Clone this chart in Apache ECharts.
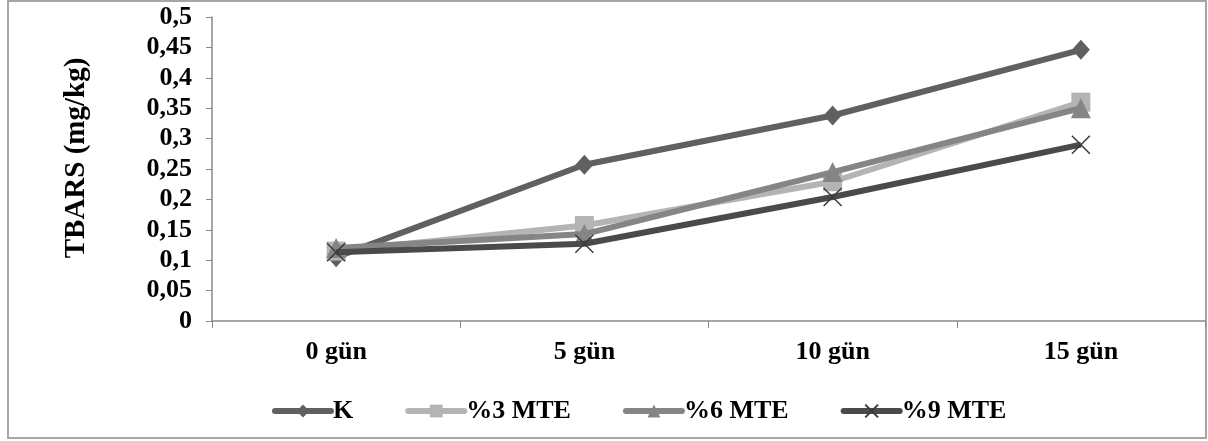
<!DOCTYPE html>
<html>
<head>
<meta charset="utf-8">
<script src="https://cdn.jsdelivr.net/npm/echarts@6/dist/echarts.min.js"></script>
<style>html,body{margin:0;padding:0;background:#fff}#c{width:1208px;height:441px}</style>
</head>
<body>
<div id="c"></div>
<script>
const categories = ['0 gün', '5 gün', '10 gün', '15 gün'];
const seriesNames = ['K', '%3 MTE', '%6 MTE', '%9 MTE'];
const valuesK = [0.105, 0.257, 0.338, 0.446];
const values3 = [0.115, 0.157, 0.229, 0.360];
const values6 = [0.120, 0.143, 0.245, 0.350];
const values9 = [0.113, 0.127, 0.204, 0.290];
const yTicks = [0, 0.05, 0.1, 0.15, 0.2, 0.25, 0.3, 0.35, 0.4, 0.45, 0.5];
const yTitle = 'TBARS (mg/kg)';

const font = '"Liberation Serif", "Times New Roman", serif';
const colors = ['#606060', '#b4b4b4', '#858585', '#4a4a4a'];
const symbols = ['diamond', 'rect', 'triangle', 'path://M0,0L10,10M10,0L0,10'];
const sizes = [[18, 20], 19, [20, 20], 18];
const data = [valuesK, values3, values6, values9];

const chart = echarts.init(document.getElementById('c'));
chart.setOption({
  animation: false,
  backgroundColor: '#fff',
  grid: { left: 212, top: 17, right: 3, bottom: 120, containLabel: false },
  xAxis: {
    type: 'category',
    data: categories,
    boundaryGap: true,
    axisLine: { lineStyle: { color: '#888', width: 1.5 } },
    axisTick: { show: true, length: 7, lineStyle: { color: '#888' } },
    axisLabel: { fontFamily: font, fontWeight: 'bold', fontSize: 26, color: '#000', margin: 18 }
  },
  yAxis: {
    type: 'value',
    min: 0, max: 0.5, interval: 0.05,
    splitLine: { show: false },
    axisLine: { show: true, lineStyle: { color: '#888', width: 1.5 } },
    axisTick: { show: true, length: 6, lineStyle: { color: '#888' } },
    axisLabel: {
      fontFamily: font, fontWeight: 'bold', fontSize: 26, color: '#000', margin: 20,
      formatter: v => {
        const t = yTicks.find(x => Math.abs(x - v) < 1e-9);
        return String(+(t !== undefined ? t : v).toFixed(2)).replace('.', ',');
      }
    }
  },
  legend: {
    bottom: 12,
    left: 267,
    itemWidth: 56,
    itemHeight: 16,
    itemGap: 52,
    lineStyle: { width: 6, cap: 'round' },
    textStyle: { fontFamily: font, fontWeight: 'bold', fontSize: 26, color: '#000', padding: [0, 0, 0, -3] },
    data: seriesNames
  },
  graphic: [
    { type: 'rect', shape: { x: 8, y: 1, width: 1198, height: 437 }, style: { fill: 'none', stroke: '#a6a6a6', lineWidth: 2 }, silent: true },
    { type: 'text', x: 77, y: 158, rotation: Math.PI / 2,
      style: { text: yTitle, fontFamily: font, fontWeight: 'bold', fontSize: 29, fill: '#000', align: 'center', verticalAlign: 'middle' } }
  ],
  series: seriesNames.map((n, i) => ({
    name: n,
    type: 'line',
    data: data[i],
    symbol: symbols[i],
    symbolSize: sizes[i],
    showSymbol: true,
    lineStyle: { color: colors[i], width: 6 },
    itemStyle: i === 3 ? { color: colors[i], borderColor: '#3a3a3a', borderWidth: 1.5 } : { color: colors[i] },
    z: 2 + i
  }))
});
</script>
</body>
</html>
